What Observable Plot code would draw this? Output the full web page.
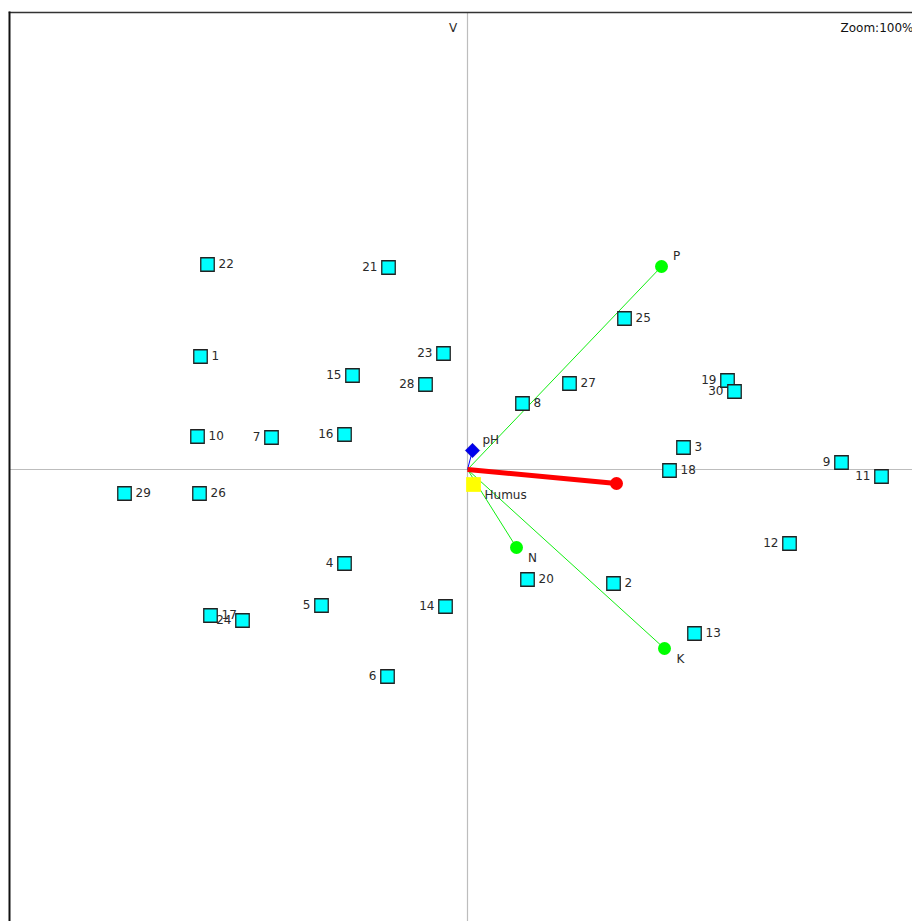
<!DOCTYPE html>
<html>
<head>
<meta charset="utf-8">
<script src="https://cdn.jsdelivr.net/npm/d3@7"></script>
<script src="https://cdn.jsdelivr.net/npm/@observablehq/plot@0.6"></script>
<style>
  body { margin: 0; background: #fff; }
  svg { display: block; }
</style>
</head>
<body>
<div id="chart"></div>
<script>
// Sample scores (site points)
const sampleIds = ["22","21","1","23","15","28","27","19","30","8","25","10","7","16","3","18","9","11","29","26","12","4","20","2","5","14","17","24","13","6"];
const sampleX = [-2.60,-0.79,-2.67,-0.24,-1.15,-0.42,1.02,2.60,2.67,0.55,1.57,-2.70,-1.96,-1.23,2.16,2.02,3.74,4.14,-3.43,-2.68,3.22,-1.23,0.60,1.46,-1.46,-0.22,-2.57,-2.25,2.27,-0.80];
const sampleY = [2.05,2.02,1.13,1.16,0.94,0.85,0.86,0.89,0.78,0.66,1.51,0.33,0.32,0.35,0.22,-0.01,0.07,-0.07,-0.24,-0.24,-0.74,-0.94,-1.10,-1.14,-1.36,-1.37,-1.46,-1.51,-1.64,-2.07];
const labelSide = ["right","left","right","left","left","left","right","left","left","right","right","right","left","left","right","right","left","left","right","right","left","left","right","right","left","left","right","left","right","left"];

// Environmental vectors
const envNames = ["P","K","N"];
const envX = [1.94, 1.97, 0.49];
const envY = [2.03, -1.79, -0.78];

const phX = 0.05, phY = 0.19;
const humusX = 0.06, humusY = -0.15;
const redX = 1.49, redY = -0.14;

const samples = sampleIds.map((id, i) => ({id, x: sampleX[i], y: sampleY[i], side: labelSide[i]}));
const env = envNames.map((n, i) => ({name: n, x: envX[i], y: envY[i]}));

const font = "DejaVu Sans, Verdana, sans-serif";
const txt = "#2a2a2a";

const chart = Plot.plot({
  width: 912,
  height: 921,
  marginLeft: 9,
  marginTop: 12,
  marginRight: 0,
  marginBottom: 0,
  style: {fontFamily: font, fontSize: "11px", background: "#fff"},
  x: {domain: [-4.58, 4.45], axis: null},
  y: {domain: [-4.52, 4.57], axis: null},
  marks: [
    Plot.ruleX([0], {stroke: "#bdbdbd", strokeWidth: 1.2}),
    Plot.ruleY([0], {stroke: "#bdbdbd", strokeWidth: 1.2}),
    Plot.frame({anchor: "top", stroke: "#333", strokeWidth: 1.5}),
    Plot.frame({anchor: "left", stroke: "#111", strokeWidth: 2}),
    // green env vectors
    Plot.link(env, {x1: 0, y1: 0, x2: "x", y2: "y", stroke: "#11ee11", strokeWidth: 1}),
    // pH thin blue line
    Plot.link([{x: phX, y: phY}], {x1: 0, y1: 0, x2: "x", y2: "y", stroke: "#0000ff", strokeWidth: 1}),
    // red vector
    Plot.link([{x: redX, y: redY}], {x1: 0, y1: 0, x2: "x", y2: "y", stroke: "#ff0000", strokeWidth: 5}),
    Plot.dot([{x: redX, y: redY}], {x: "x", y: "y", r: 6.5, fill: "#ff0000"}),
    Plot.dot(env, {x: "x", y: "y", r: 6.5, fill: "#00ff00"}),
    Plot.text(env.filter(d => d.y > 0), {x: "x", y: "y", text: "name", dx: 15, dy: -10, textAnchor: "middle", fill: txt, fontSize: 12}),
    Plot.text(env.filter(d => d.y < 0), {x: "x", y: "y", text: "name", dx: 16, dy: 11, textAnchor: "middle", fill: txt, fontSize: 12}),
    // pH diamond
    Plot.dot([{x: phX, y: phY}], {x: "x", y: "y", symbol: "diamond2", r: 6.5, fill: "#0000ee", stroke: "#0000aa", strokeWidth: 0.5}),
    Plot.text([{x: phX, y: phY, t: "pH"}], {x: "x", y: "y", text: "t", dx: 10, dy: -10, textAnchor: "start", fill: txt, fontSize: 12}),
    // Humus square
    Plot.dot([{x: humusX, y: humusY}], {x: "x", y: "y", symbol: "square", r: 8.3, fill: "#ffff00"}),
    Plot.text([{x: humusX, y: humusY, t: "Humus"}], {x: "x", y: "y", text: "t", dx: 11, dy: 11, textAnchor: "start", fill: txt, fontSize: 12}),
    // sample labels (under squares, as in reference)
    Plot.text(samples.filter(d => d.side === "right"), {x: "x", y: "y", text: "id", dx: 11, textAnchor: "start", fill: txt, fontSize: 12}),
    Plot.text(samples.filter(d => d.side === "left"), {x: "x", y: "y", text: "id", dx: -11, textAnchor: "end", fill: txt, fontSize: 12}),
    // samples
    Plot.dot(samples, {x: "x", y: "y", symbol: "square", r: 7.6, fill: "#00ffff", stroke: "#222", strokeWidth: 1.3}),
    // corner texts
    Plot.text(["V"], {frameAnchor: "top", text: d => d, dx: -8, dy: 11, fill: txt, fontSize: 12}),
    Plot.text(["Zoom:100%"], {frameAnchor: "top-right", text: d => d, textAnchor: "start", dx: -72, dy: 11, fill: "#111", fontSize: 12})
  ]
});

document.getElementById("chart").append(chart);
</script>
</body>
</html>
